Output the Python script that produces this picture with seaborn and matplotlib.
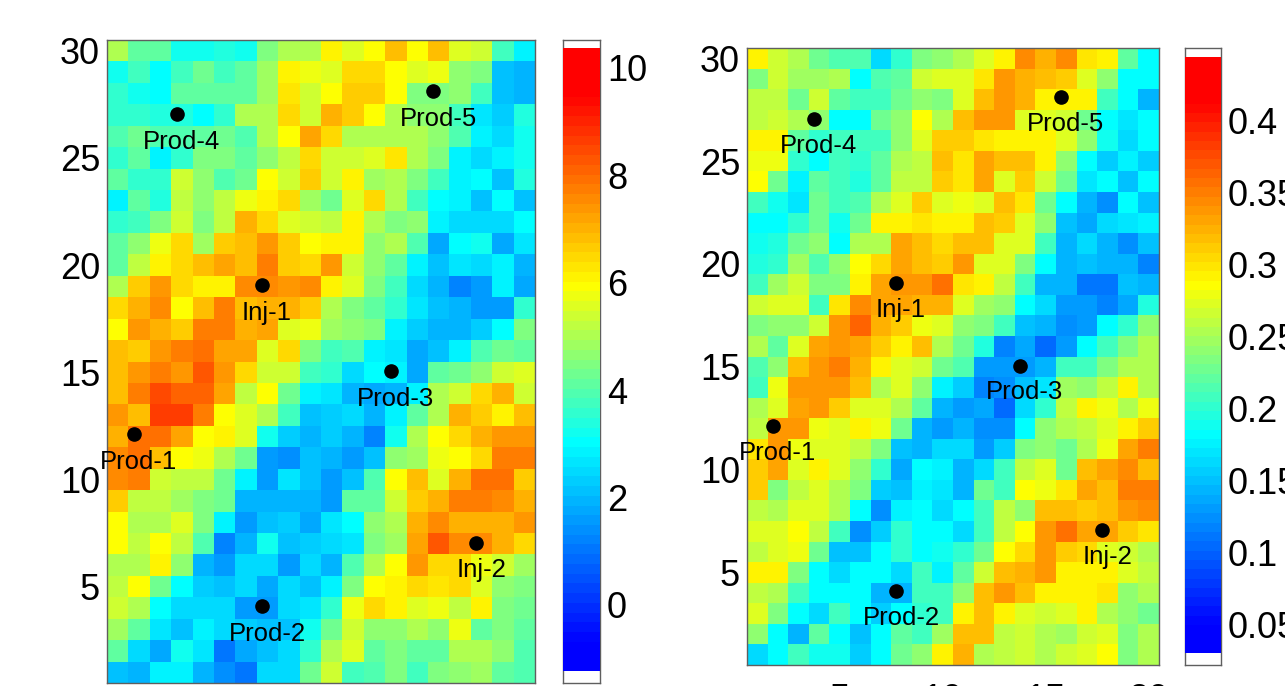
import numpy as np
import pandas as pd
import matplotlib.pyplot as plt
import seaborn as sns
from matplotlib.colors import LinearSegmentedColormap

W, H = 1285, 686

# well locations (grid coordinates), same on both maps
well_names = ['Prod-1', 'Prod-2', 'Prod-3', 'Prod-4', 'Prod-5', 'Inj-1', 'Inj-2']
well_x = [1.75, 7.75, 13.75, 3.75, 15.75, 7.75, 17.75]
well_y = [12.1, 4.1, 15.05, 27.05, 28.1, 19.05, 7.05]

row_index = list(range(30, 0, -1))
col_index = list(range(1, 21))
map_ticks = [5, 10, 15, 20]
y_ticks = [5, 10, 15, 20, 25, 30]

left_ticks = [0, 2, 4, 6, 8, 10]
right_ticks = [0.05, 0.1, 0.15, 0.2, 0.25, 0.3, 0.35, 0.4]
right_tick_labels = ['0.05', '0.1', '0.15', '0.2', '0.25', '0.3', '0.35', '0.4']

# left map, row 30 first
left_values = [
    [5.0,4.2,4.2,3.2,3.2,3.4,3.2,4.5,5.0,5.0,6.2,5.5,6.0,6.8,6.0,6.8,5.5,5.3,3.8,2.8],
    [3.2,3.8,3.0,3.7,4.3,3.8,4.1,4.8,6.2,5.7,5.5,6.5,6.5,6.0,5.6,5.7,4.6,4.4,2.2,1.9],
    [3.5,3.3,3.0,4.1,4.2,4.1,4.1,4.8,6.3,5.4,5.9,6.7,6.6,6.0,4.5,4.4,4.6,3.7,2.1,2.0],
    [3.6,3.5,3.4,3.4,3.0,3.6,5.0,5.0,6.4,5.3,7.1,6.6,6.0,5.0,4.6,4.6,3.8,2.6,2.3,3.4],
    [3.9,4.3,4.0,4.0,4.2,4.3,3.9,5.1,6.0,7.2,6.4,5.0,5.0,5.0,5.0,4.7,4.0,2.9,2.5,3.3],
    [3.6,4.1,2.9,3.5,4.5,4.4,4.2,4.7,5.2,6.4,5.3,5.3,5.5,6.3,5.1,4.4,2.9,2.5,2.9,3.3],
    [4.2,3.5,3.5,5.3,4.6,3.9,4.3,6.0,5.3,6.7,5.3,6.2,4.8,5.1,4.5,3.7,2.8,3.1,2.1,3.4],
    [2.9,4.2,3.4,5.2,4.6,5.2,5.7,6.2,6.4,4.8,4.3,5.5,6.4,5.1,3.8,3.0,2.8,2.2,3.0,2.2],
    [3.5,3.7,4.5,5.3,4.5,5.2,7.0,6.5,5.6,5.4,5.2,6.2,5.0,4.5,4.6,2.9,2.5,2.5,2.5,3.1],
    [4.2,4.7,5.8,6.5,4.8,6.6,6.8,7.4,6.6,6.0,6.1,6.2,4.7,5.1,3.9,1.7,3.0,3.2,1.8,2.7],
    [4.1,5.2,6.2,6.5,6.8,7.2,6.9,7.8,6.6,6.5,7.3,5.3,4.6,4.2,2.9,2.2,2.7,2.4,2.8,1.9],
    [5.1,6.6,7.4,6.4,6.2,6.1,7.5,7.5,7.3,7.5,6.2,5.5,4.5,3.7,2.4,2.0,1.2,1.6,2.9,1.8],
    [6.4,7.0,7.6,6.0,6.9,7.8,6.9,7.0,7.0,6.6,5.0,4.4,4.2,3.6,2.7,2.2,1.9,1.6,1.6,3.5],
    [5.9,7.3,7.0,6.6,7.8,7.8,7.0,7.2,5.5,5.7,4.9,4.7,4.4,2.9,2.3,2.0,2.0,2.3,3.0,4.4],
    [6.9,6.6,7.3,7.7,8.0,7.2,7.2,5.6,6.5,4.5,3.7,3.9,2.8,2.6,1.8,2.1,2.9,4.0,4.3,4.2],
    [6.9,7.4,7.8,7.4,8.2,7.4,6.4,5.3,5.3,3.7,3.6,2.4,3.0,2.9,1.8,4.2,4.3,4.6,5.4,5.5],
    [6.8,7.7,8.4,8.1,8.1,7.2,5.2,5.9,4.3,2.9,2.7,2.0,1.7,2.0,2.8,5.0,5.4,6.5,7.1,5.4],
    [7.3,6.9,8.6,8.6,7.8,6.0,5.5,5.0,3.8,2.2,2.3,2.4,1.9,2.9,4.2,5.0,7.1,6.7,6.2,6.8],
    [7.1,7.9,8.0,7.2,6.0,6.1,5.6,3.3,2.3,1.9,2.3,1.9,1.3,3.2,5.0,5.9,6.5,7.0,7.3,7.3],
    [7.6,8.0,6.8,6.0,5.7,5.1,4.3,1.6,1.4,2.1,2.0,1.5,2.2,4.7,4.9,5.7,5.9,6.4,7.8,7.8],
    [7.6,7.7,5.4,5.2,5.2,4.3,2.8,1.5,2.7,2.1,1.6,2.1,4.0,6.0,6.9,5.5,7.0,8.0,8.0,6.6],
    [6.7,5.2,5.2,4.8,4.5,4.3,1.9,1.9,1.9,1.9,1.6,4.2,4.2,5.3,6.6,7.0,7.7,7.7,7.5,7.0],
    [5.9,5.0,5.1,5.5,4.4,2.9,1.5,2.1,2.3,1.7,2.6,3.0,4.6,5.0,7.0,7.5,7.1,7.1,7.0,7.4],
    [6.0,5.2,5.9,5.2,3.9,1.2,1.9,3.3,2.2,2.3,2.4,2.6,4.4,4.8,7.2,8.2,7.6,7.6,7.1,6.4],
    [5.0,5.0,6.1,4.6,1.9,1.6,2.5,2.5,1.6,2.5,2.0,3.9,5.0,6.0,7.4,6.4,6.4,5.7,5.3,4.8],
    [5.2,5.9,4.3,3.0,2.3,2.1,2.4,1.7,2.5,2.2,2.9,4.5,6.0,6.1,6.5,6.3,6.5,5.6,4.7,4.5],
    [5.3,5.0,3.0,2.5,2.5,2.4,1.6,1.6,2.5,2.6,3.6,5.7,6.5,6.1,5.5,5.7,5.2,6.2,4.4,4.3],
    [4.9,4.2,2.7,2.1,2.9,2.5,2.3,2.1,2.2,3.2,4.3,5.4,4.6,4.6,5.0,4.7,5.8,4.1,4.5,4.2],
    [4.2,2.4,1.7,3.2,2.7,1.1,1.7,2.1,2.5,3.5,5.0,5.5,4.1,4.5,4.1,4.2,5.0,5.1,4.6,4.0],
    [2.1,1.9,2.9,2.9,1.9,1.4,1.1,2.4,2.4,4.3,5.4,3.7,3.9,4.5,3.7,4.5,4.6,4.8,4.2,3.9],
]

# right map, row 30 first
right_values = [
    [.295,.265,.25,.225,.215,.215,.16,.20,.235,.24,.255,.27,.29,.345,.325,.345,.30,.295,.22,.18],
    [.235,.265,.245,.245,.25,.18,.215,.22,.265,.27,.275,.30,.335,.325,.32,.31,.275,.24,.18,.18],
    [.26,.26,.23,.265,.22,.205,.205,.23,.24,.235,.275,.32,.335,.325,.295,.29,.295,.21,.18,.145],
    [.26,.265,.255,.24,.18,.18,.225,.24,.285,.25,.32,.335,.335,.27,.27,.265,.23,.185,.17,.18],
    [.295,.295,.22,.20,.205,.205,.205,.24,.27,.31,.31,.30,.295,.29,.29,.27,.24,.19,.16,.185],
    [.28,.28,.20,.185,.21,.20,.22,.25,.26,.315,.30,.33,.32,.32,.295,.24,.18,.155,.175,.155],
    [.285,.225,.175,.22,.21,.195,.22,.26,.26,.31,.30,.33,.275,.31,.265,.225,.17,.185,.15,.185],
    [.205,.19,.17,.225,.21,.215,.25,.27,.31,.275,.28,.275,.32,.30,.225,.18,.14,.125,.185,.15],
    [.185,.185,.20,.23,.19,.225,.295,.295,.30,.295,.29,.32,.31,.27,.24,.15,.135,.16,.17,.175],
    [.19,.195,.23,.24,.18,.25,.255,.33,.315,.305,.315,.32,.27,.27,.21,.14,.165,.145,.125,.15],
    [.195,.20,.245,.215,.24,.285,.305,.33,.32,.31,.335,.275,.27,.235,.18,.14,.15,.14,.14,.12],
    [.21,.245,.265,.235,.235,.29,.33,.335,.335,.355,.30,.295,.26,.21,.145,.14,.11,.11,.15,.145],
    [.265,.27,.27,.21,.30,.345,.33,.33,.325,.325,.275,.245,.24,.18,.16,.13,.13,.115,.135,.195],
    [.235,.24,.24,.265,.335,.36,.325,.31,.28,.27,.24,.235,.205,.15,.14,.125,.13,.18,.20,.24],
    [.25,.22,.27,.33,.335,.33,.31,.295,.315,.25,.225,.195,.12,.135,.105,.13,.185,.205,.235,.25],
    [.215,.24,.315,.335,.35,.325,.295,.27,.265,.23,.215,.13,.13,.13,.14,.21,.205,.235,.25,.255],
    [.205,.28,.335,.335,.335,.32,.25,.27,.24,.175,.155,.12,.125,.15,.17,.245,.24,.26,.295,.255],
    [.25,.275,.33,.34,.31,.275,.27,.255,.22,.14,.13,.135,.105,.16,.20,.26,.295,.28,.25,.28],
    [.26,.34,.335,.28,.27,.29,.28,.23,.14,.13,.145,.125,.125,.18,.24,.25,.26,.27,.295,.31],
    [.30,.34,.28,.275,.27,.26,.235,.15,.14,.165,.16,.13,.155,.235,.24,.225,.25,.28,.33,.35],
    [.31,.33,.27,.29,.27,.24,.20,.135,.18,.175,.14,.16,.21,.26,.27,.23,.32,.33,.345,.32],
    [.31,.235,.26,.27,.25,.235,.155,.15,.175,.17,.145,.23,.21,.285,.28,.30,.33,.32,.35,.35],
    [.26,.25,.275,.27,.25,.185,.125,.175,.18,.165,.185,.205,.26,.24,.32,.32,.31,.32,.34,.345],
    [.275,.27,.285,.26,.21,.125,.155,.20,.185,.185,.165,.205,.26,.285,.34,.355,.33,.33,.31,.30],
    [.26,.27,.28,.23,.15,.15,.18,.20,.185,.19,.20,.23,.285,.305,.34,.31,.305,.275,.265,.25],
    [.295,.29,.235,.18,.16,.18,.18,.16,.21,.175,.22,.265,.32,.325,.335,.295,.295,.295,.275,.26],
    [.26,.25,.205,.18,.18,.18,.14,.14,.205,.21,.24,.32,.335,.32,.295,.29,.29,.30,.24,.25],
    [.275,.235,.18,.16,.21,.185,.155,.185,.20,.21,.295,.315,.295,.27,.265,.27,.295,.25,.24,.23],
    [.24,.18,.14,.22,.185,.15,.18,.22,.205,.245,.32,.32,.26,.265,.25,.245,.265,.27,.235,.25],
    [.16,.18,.205,.19,.19,.155,.18,.225,.24,.29,.325,.25,.26,.265,.25,.265,.275,.285,.235,.25],
]

sns.set_theme(style='white')
plt.rcParams['font.family'] = ['Liberation Sans', 'DejaVu Sans']
edge = '#5f5f5f'
# jet without the dark ends, pure blue and pure red at the limits
jet64 = LinearSegmentedColormap.from_list(
    'jet_bright',
    [(0.0, '#0000ff'), (0.04, '#0000ff'), (0.365, '#00ffff'), (0.62, '#ffff00'), (0.93, '#ff0000'), (1.0, '#ff0000')],
    N=64)


def px_axes(fig, x0, y0, x1, y1):
    # pixel box, y measured from the top of the image
    return fig.add_axes([x0 / W, 1 - y1 / H, (x1 - x0) / W, (y1 - y0) / H])


def draw_panel(fig, values, box, frame, bar, vmin, vmax, ticks, tick_labels):
    ax = px_axes(fig, *box)
    back = px_axes(fig, *frame)
    back.set_xticks([])
    back.set_yticks([])
    cax = px_axes(fig, *bar)

    df = pd.DataFrame(np.array(values), index=row_index, columns=col_index)
    sns.heatmap(df, ax=ax, cmap=jet64, vmin=vmin, vmax=vmax, cbar_ax=cax,
                xticklabels=False, yticklabels=False)

    ax.set_xticks([t - 0.5 for t in map_ticks])
    ax.set_xticklabels([str(t) for t in map_ticks])
    ax.set_yticks([30.5 - t for t in y_ticks])
    ax.set_yticklabels([str(t) for t in y_ticks], rotation=0)
    ax.tick_params(direction='in', length=5, width=0.8, color=edge, top=True, right=True,
                   bottom=True, left=True, labelsize=26, labelcolor='black', pad=5)
    ax.tick_params(axis='x', pad=13)
    for s in ax.spines.values():
        s.set_visible(True)
        s.set_color(edge)
        s.set_linewidth(1.0)

    for name, x, y in zip(well_names, well_x, well_y):
        ax.plot(x - 0.5, 30.5 - y, 'o', color='black', ms=9.5)
        ax.text(x - 0.27, 30.5 - y + 1.3, name, ha='center', va='center', fontsize=18.5, color='black')

    cax.set_yticks(ticks)
    cax.set_yticklabels(tick_labels)
    cax.tick_params(direction='in', length=5, width=0.8, color=edge, left=True, right=True,
                    labelleft=False, labelright=True, labelsize=26, labelcolor='black', pad=5)
    for s in back.spines.values():
        s.set_visible(True)
        s.set_color(edge)
        s.set_linewidth(1.0)
    for s in cax.spines.values():
        s.set_visible(False)
    return ax


fig = plt.figure(figsize=(W / 100, H / 100), dpi=100, facecolor='white')

draw_panel(fig, left_values, (107, 40, 535, 683), (563, 40, 600, 683), (563, 48, 600, 671),
           -1.23, 10.37, left_ticks, [str(t) for t in left_ticks])
draw_panel(fig, right_values, (747, 48, 1159, 665), (1185, 48, 1221, 665), (1185, 57, 1221, 653),
           0.03, 0.444, right_ticks, right_tick_labels)

fig.savefig('out.png', dpi=100)
